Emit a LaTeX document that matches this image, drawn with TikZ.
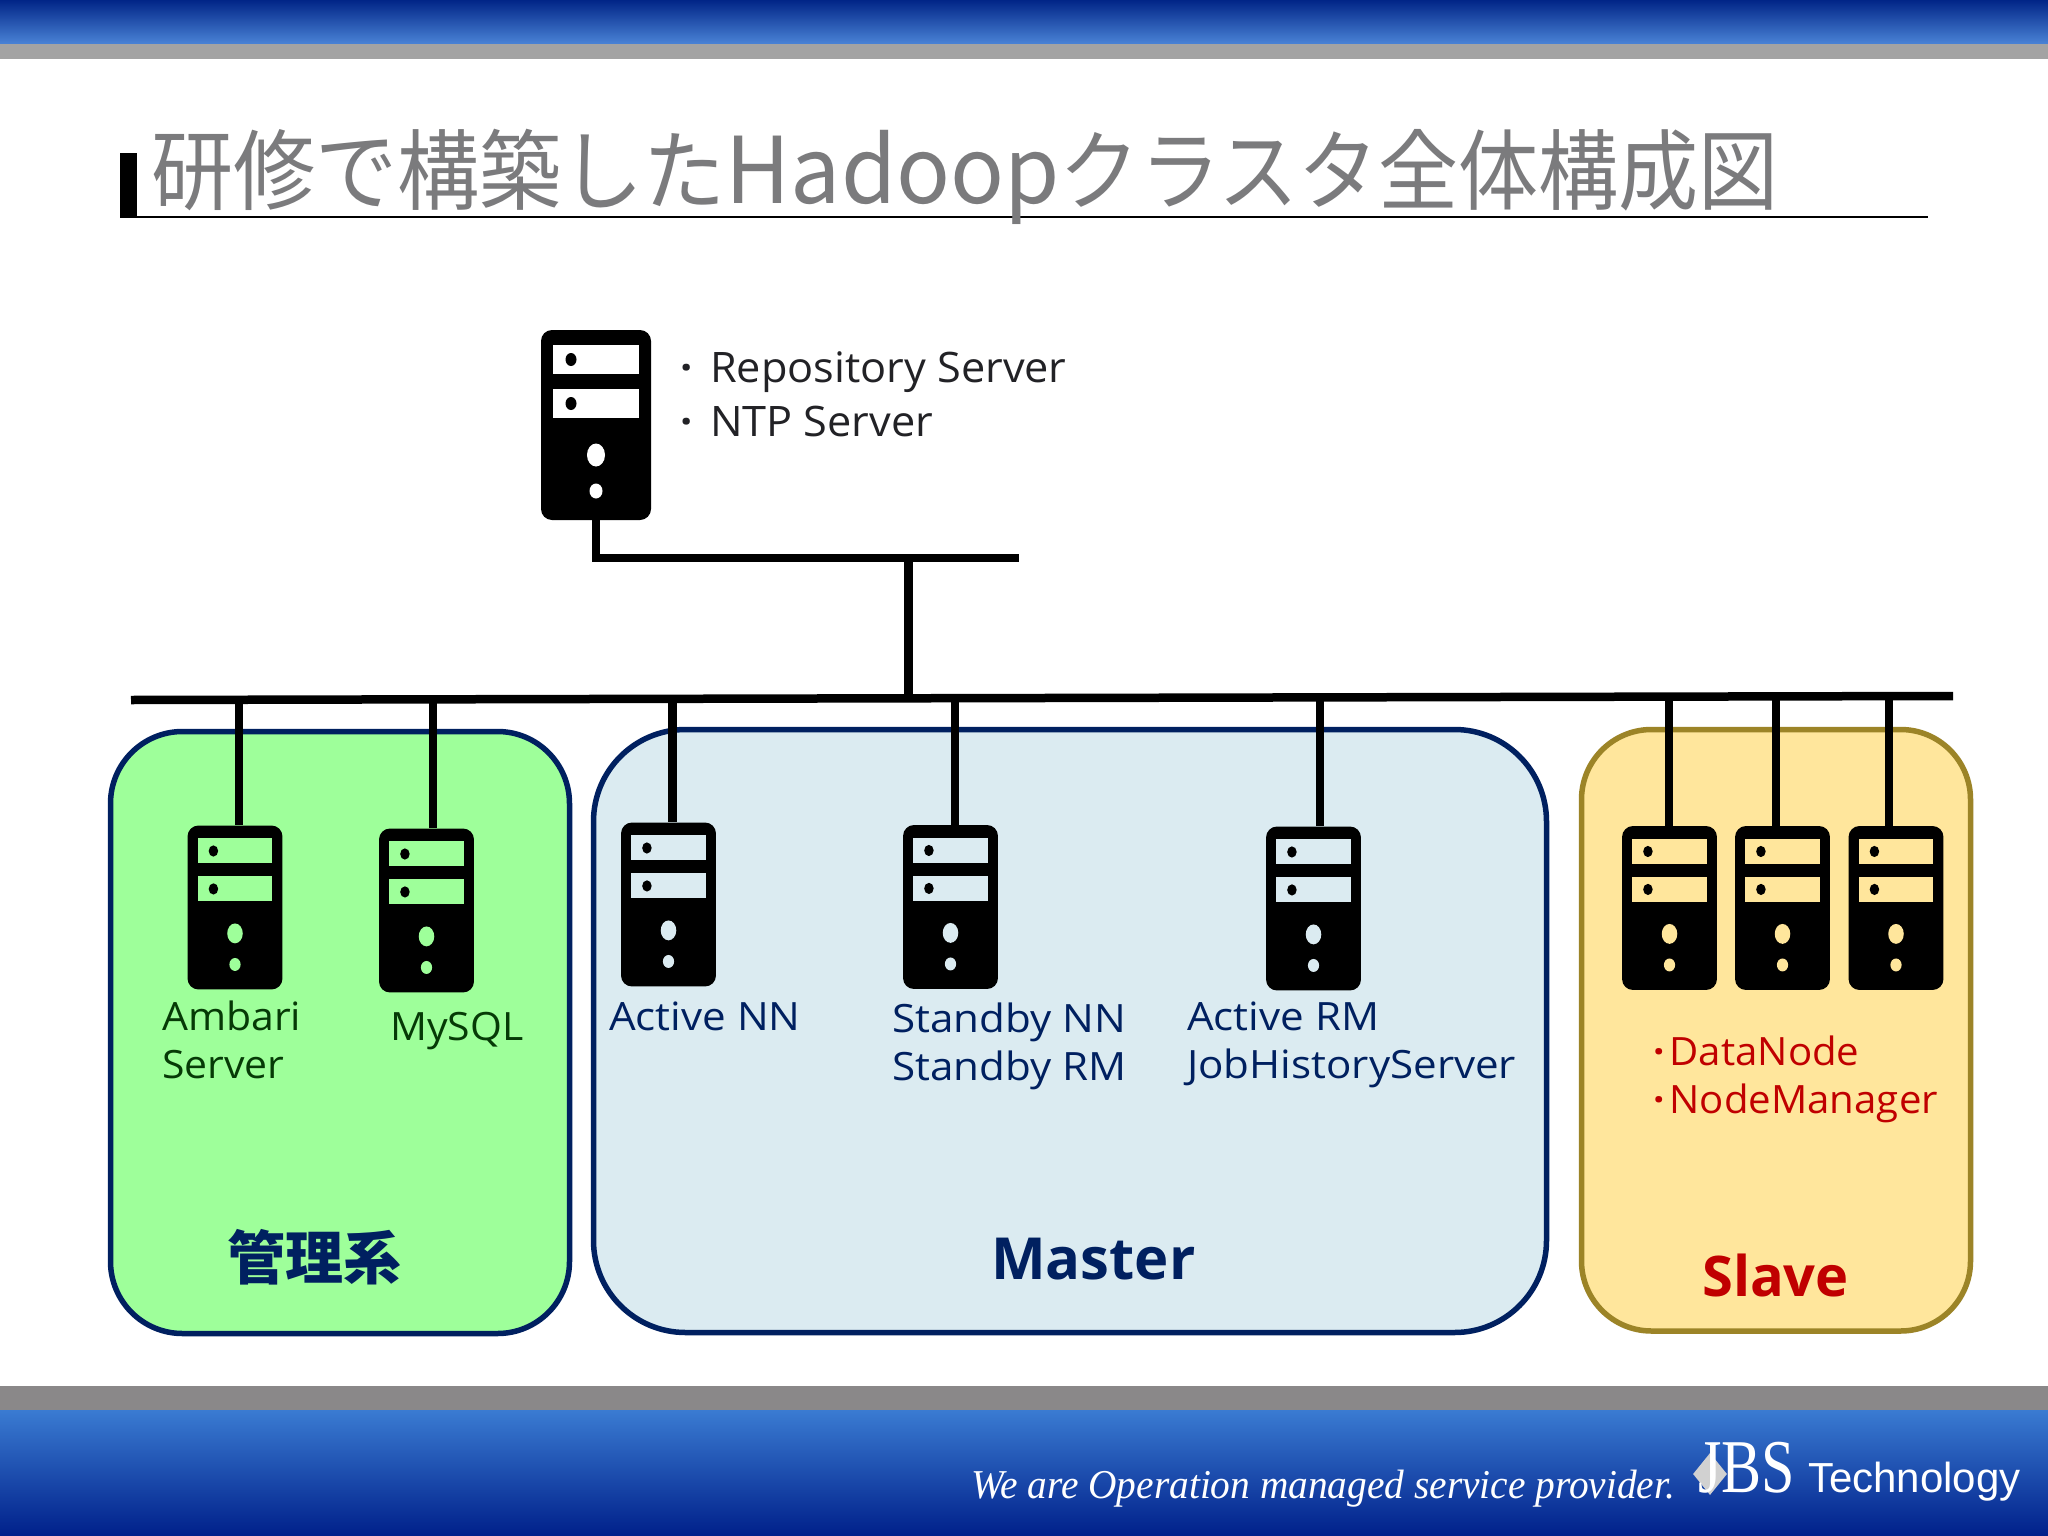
\documentclass[tikz,border=0pt]{standalone}
\usepackage{fontspec}
\setmainfont{Open Sans}
\newfontfamily\cjk{Noto Sans CJK JP}
\newfontfamily\cjktitle{Noto Sans CJK JP}[FakeStretch=0.933]
\newfontfamily\cjktitleb{Noto Sans CJK JP}[FakeStretch=0.91]
\newfontfamily\lattitle{Noto Sans CJK JP}[FakeStretch=0.97]
\newfontfamily\wa{Open Sans}[FakeStretch=1.08]
\newfontfamily\wb{Open Sans}[FakeStretch=1.05]
\newfontfamily\wc{Open Sans}[FakeStretch=1.03]
\newfontfamily\serifit{Liberation Serif}[FakeStretch=0.96]
\newfontfamily\serifjbs{Liberation Serif}[FakeStretch=0.79]
\newfontfamily\sans{Liberation Sans}
\usetikzlibrary{shapes.geometric}
\definecolor{navy}{HTML}{002060}
\definecolor{grpgreen}{HTML}{9EFF9A}
\definecolor{grpblue}{HTML}{DBEBF1}
\definecolor{grpyellow}{HTML}{FFE69C}
\definecolor{grpedge}{HTML}{9C8427}
\definecolor{darkred}{HTML}{C00000}
\definecolor{txtgreen}{HTML}{063A06}
\definecolor{txtdark}{HTML}{222226}
\definecolor{titlegray}{HTML}{7B7B7D}
\definecolor{headtop}{HTML}{012587}
\definecolor{headbot}{HTML}{4A83D6}
\definecolor{headgray}{HTML}{A3A3A3}
\definecolor{footgray}{HTML}{8A8889}
\definecolor{foottop}{HTML}{3A7BD2}
\definecolor{footbot}{HTML}{00208A}
\tikzset{
  group/.style={rounded corners=#1,line width=5.5pt},
  wire/.style={black,line width=8.5pt},
  lbl/.style={inner sep=0pt,anchor=base west,align=left},
  srv/.style={scale=.863,transform shape},
  pics/server/.style={code={
    \node[fill=black,rounded corners=11pt,minimum width=110pt,minimum height=190pt,inner sep=0pt] (-body) at (0,0) {};
    \fill[#1] (-43,-80) rectangle (43,-51);
    \fill[#1] (-43,-36) rectangle (43,-7);
    \fill[black] (-25,-65.5) ellipse (5.5 and 6.5);
    \fill[black] (-25,-21.5) ellipse (5.5 and 6.5);
    \fill[#1] (0,30) ellipse (9 and 11.5);
    \fill[#1] (0,66) ellipse (6.5 and 7.5);
  }}
}
\begin{document}
\begin{tikzpicture}[x=1pt,y=-1pt]
\useasboundingbox (0,0) rectangle (2048,1536);
\fill[white] (0,0) rectangle (2048,1536);

% header and footer bands
\shade[top color=headtop,bottom color=headbot] (0,0) rectangle (2048,44);
\fill[headgray] (0,44) rectangle (2048,59);
\fill[footgray] (0,1386) rectangle (2048,1410);
\shade[top color=foottop,bottom color=footbot] (0,1410) rectangle (2048,1536);

% title
\fill[black] (120,153) rectangle (137,218);
\fill[black] (137,215.5) rectangle (1928,218);
\node[lbl,text=titlegray,font=\cjktitle\fontsize{88}{88}\selectfont] (title) at (151,203) {研修で構築した{\lattitle\fontsize{92}{92}\selectfont Hadoop}{\cjktitleb クラスタ全体構成図}};

% groups
\draw[group=72pt,draw=navy,fill=grpgreen] (110.5,731.5) rectangle (569.5,1333.5);
\draw[group=92pt,draw=navy,fill=grpblue] (593.5,729.5) rectangle (1546.5,1332.5);
\draw[group=70pt,draw=grpedge,fill=grpyellow] (1581.5,729.5) rectangle (1970.5,1331);

% servers
\pic (repo) at (596,425) {server=white};
\pic[srv] (amb) at (235,907.5) {server=grpgreen};
\pic[srv] (my) at (426.5,910.5) {server=grpgreen};
\pic[srv] (nn) at (668.5,904.5) {server=grpblue};
\pic[srv] (sb) at (950.5,907) {server=grpblue};
\pic[srv] (rm) at (1313.5,908.5) {server=grpblue};
\pic[srv] (sa) at (1669.5,908) {server=grpyellow};
\pic[srv] (sc) at (1782.5,908) {server=grpyellow};
\pic[srv] (se) at (1896,908) {server=grpyellow};

% network
\coordinate (tl) at (592,558);
\coordinate (tm) at (908.5,558);
\coordinate (tr) at (1019,558);
\coordinate (bl) at (131,700);
\coordinate (bm) at (908.5,698);
\coordinate (br) at (1953,696);
\coordinate (d1) at (239,699);
\coordinate (d2) at (433,699);
\coordinate (d3) at (672.5,699);
\coordinate (d4) at (955,698);
\coordinate (d5) at (1320,698);
\coordinate (d6) at (1669,697);
\coordinate (d7) at (1776,697);
\coordinate (d8) at (1889,697);
\draw[wire] (repo-body.south) -- (repo-body.south |- tr);
\draw[wire] (tl) -- (tr);
\draw[wire] (tm) -- (bm);
\draw[wire] (bl) -- (br);
\draw[wire] (d1) -- (d1 |- amb-body.north);
\draw[wire] (d2) -- (d2 |- my-body.north);
\draw[wire] (d3) -- (d3 |- nn-body.north);
\draw[wire] (d4) -- (d4 |- sb-body.north);
\draw[wire] (d5) -- (d5 |- rm-body.north);
\draw[wire] (d6) -- (d6 |- sa-body.north);
\draw[wire] (d7) -- (d7 |- sc-body.north);
\draw[wire] (d8) -- (d8 |- se-body.north);

% labels
\node[lbl,text=txtdark,font=\wc\fontsize{42}{54}\selectfont] (repotxt) at (680,436) {{\bfseries ·}\hspace{17.5pt}Repository Server\\{\bfseries ·}\hspace{17.5pt}NTP Server};
\node[lbl,text=txtgreen,font=\wb\fontsize{39}{48}\selectfont] (ambtxt) at (162,1078) {Ambari\\Server};
\node[lbl,text=txtgreen,font=\wb\fontsize{39}{48}\selectfont] (mytxt) at (390,1040) {MySQL};
\node[lbl,text=navy,font=\wa\fontsize{39}{48}\selectfont] (nntxt) at (609,1030) {Active NN};
\node[lbl,text=navy,font=\wa\fontsize{39}{48}\selectfont] (sbtxt) at (892,1080) {Standby NN\\Standby RM};
\node[lbl,text=navy,font=\wa\fontsize{39}{48}\selectfont] (rmtxt) at (1187,1078) {Active RM\\JobHistoryServer};
\node[lbl,text=darkred,font=\wc\fontsize{39}{48}\selectfont] (slvtxt) at (1653,1113) {{\bfseries ·}\hspace{5pt}DataNode\\{\bfseries ·}\hspace{5pt}NodeManager};
\node[lbl,text=navy,font=\cjk\bfseries\fontsize{58}{58}\selectfont] (kanri) at (227,1279) {管理系};
\node[lbl,text=navy,font=\bfseries\fontsize{58}{58}\selectfont] (master) at (991,1279) {Master};
\node[lbl,text=darkred,font=\bfseries\fontsize{56}{56}\selectfont] (slave) at (1702,1296) {Slave};

% footer logo
\node[lbl,text=white,font=\serifit\itshape\fontsize{41}{41}\selectfont] (tag) at (971,1498) {We are Operation managed service provider.};
\node[diamond,fill=black!18,minimum width=34pt,minimum height=42pt,inner sep=0pt] (dia) at (1710,1474) {};
\node[lbl,text=white,font=\serifjbs\fontsize{76}{76}\selectfont] (jbs) at (1698,1492) {JBS};
\node[lbl,text=white,font=\sans\fontsize{42}{42}\selectfont] (tech) at (1808,1492) {Technology};
\end{tikzpicture}
\end{document}
